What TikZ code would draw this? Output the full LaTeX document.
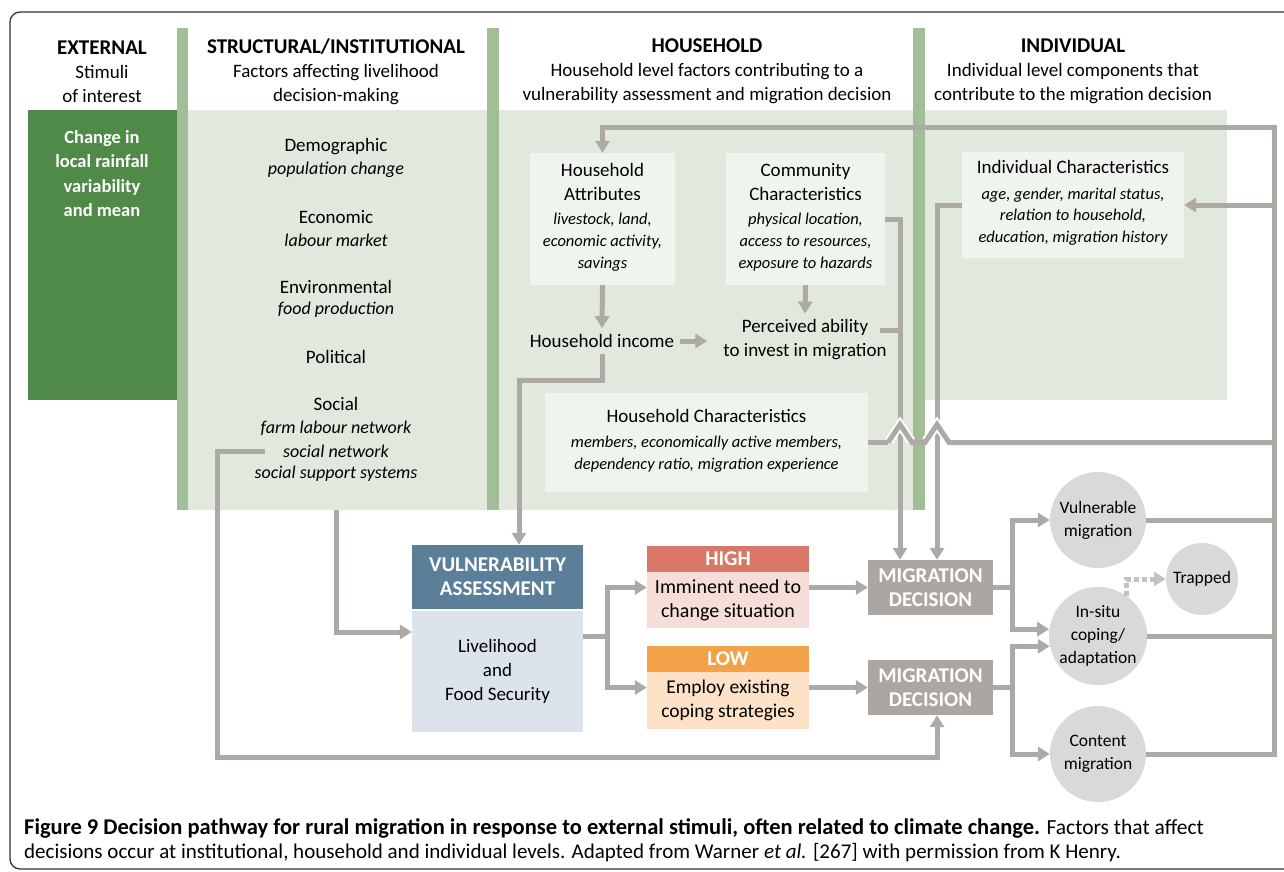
\documentclass[tikz,border=0pt]{standalone}
\usepackage{fontspec}
\setmainfont{Carlito}
\usetikzlibrary{arrows.meta,calc}
\definecolor{dkgreen}{HTML}{4F8A48}
\definecolor{bargreen}{HTML}{A1BE97}
\definecolor{bggreen}{HTML}{E1E8DD}
\definecolor{palebox}{HTML}{EFF4EE}
\definecolor{lngray}{HTML}{ADA9A5}
\definecolor{dotgray}{HTML}{C4C1BE}
\definecolor{circgray}{HTML}{D9D9D9}
\definecolor{mdgray}{HTML}{ABA6A1}
\definecolor{vahead}{HTML}{5B7F99}
\definecolor{vabody}{HTML}{DCE3EB}
\definecolor{hihead}{HTML}{D97868}
\definecolor{hibody}{HTML}{F6DDD8}
\definecolor{lohead}{HTML}{F2A247}
\definecolor{lobody}{HTML}{FDE2C8}
\newcommand\fsreg{\fontsize{19}{24}\selectfont}
\newcommand\fsbig{\fontsize{21}{24}\selectfont\bfseries}
\newcommand\fsit{\fontsize{16.5}{22}\selectfont\itshape}
\newcommand\fsitb{\fontsize{18}{23}\selectfont\itshape}
\begin{document}
\begin{tikzpicture}[x=1pt,y=-1pt,
  txt/.style={font=\fsreg, align=center, inner sep=0pt},
  itx/.style={font=\fsit, align=center, inner sep=0pt},
  itb/.style={font=\fsitb, align=center, inner sep=0pt},
  wtx/.style={font=\fsbig, align=center, inner sep=0pt, text=white},
  panel/.style={fill=palebox, inner sep=0pt},
  conn/.style={draw=lngray, line width=5, -{Triangle[length=12pt,width=14pt]}},
  plain/.style={draw=lngray, line width=5},
  halo/.style={draw=white, line width=9},
  dotarrow/.style={draw=dotgray, line width=5, dash pattern=on 5pt off 3pt, -{Triangle[length=12pt,width=14pt]}},
  bubble/.style={circle, fill=circgray, inner sep=0pt, minimum size=96, font=\fontsize{17.5}{23}\selectfont, align=center}
]
\useasboundingbox (0,0) rectangle (1284,872);
% frame
\draw[black!80, line width=1.3, rounded corners=10] (10,12) rectangle (1330,869);
% backgrounds
\fill[bggreen] (177,110) rectangle (925,510);
\fill[bggreen] (925,110) rectangle (1227,400);
\fill[dkgreen] (28,110) rectangle (177,400);
\fill[bargreen] (177,28) rectangle (188,510);
\fill[bargreen] (487,28) rectangle (499,510);
\fill[bargreen] (913,28) rectangle (925,510);
% headers
\node[txt] (hext) at (102,71.5) {{\fsbig EXTERNAL}\\Stimuli\\of interest};
\node[txt] (hstr) at (336,71.5) {{\fsbig STRUCTURAL/INSTITUTIONAL}\\Factors affecting livelihood\\decision-making};
\node[txt] (hhh) at (707,71.5) {{\fsbig HOUSEHOLD}\\Household level factors contributing to a\\vulnerability assessment and migration decision};
\node[txt] (hind) at (1073,71.5) {{\fsbig INDIVIDUAL}\\Individual level components that\\contribute to the migration decision};
% external
\node[wtx, font=\fontsize{18.5}{24.3}\selectfont\bfseries] (ext) at (102,173.5) {Change in\\local rainfall\\variability\\and mean};
% structural
\node[txt] (dem) at (336,147) {Demographic};
\node[itb] (demi) at (336,170) {population change};
\node[txt] (eco) at (336,217) {Economic};
\node[itb] (ecoi) at (336,240) {labour market};
\node[txt] (env) at (336,287) {Environmental};
\node[itb] (envi) at (336,310) {food production};
\node[txt] (pol) at (336,357) {Political};
\node[txt] (soc) at (336,404) {Social};
\node[itb] (soc1) at (336,428) {farm labour network};
\node[itb] (sn) at (336,451) {social network};
\node[itb] (soc3) at (336,474) {social support systems};
% household panels
\node[panel, minimum width=145, minimum height=132] (hha) at (602.5,219) {};
\node[txt] (hhat) at (602.5,182) {Household\\Attributes};
\node[itx] (hhai) at (602.5,242) {livestock, land,\\economic activity,\\savings};
\node[panel, minimum width=159, minimum height=132] (cc) at (805.5,219) {};
\node[txt] (cct) at (805.5,182) {Community\\Characteristics};
\node[itx] (cci) at (805.5,242) {physical location,\\access to resources,\\exposure to hazards};
\node[txt, inner sep=6] (hi) at (602,341) {Household income};
\node[txt, inner sep=6] (pa) at (805,340) {Perceived ability\\to invest in migration};
\node[panel, minimum width=323, minimum height=99] (hc) at (706.5,442.5) {};
\node[txt] (hct) at (706.5,416) {Household Characteristics};
\node[itx] (hci) at (706.5,454) {members, economically active members,\\dependency ratio, migration experience};
% individual
\node[panel, minimum width=222, minimum height=106] (ic) at (1073,205) {};
\node[txt] (ict) at (1073,167) {Individual Characteristics};
\node[itx, font=\fontsize{16.5}{21.5}\selectfont\itshape] (ici) at (1073,216.5) {age, gender, marital status,\\relation to household,\\education, migration history};
% assessment
\node[fill=vahead, minimum width=171, minimum height=64, wtx] (vah) at (497.5,577) {VULNERABILITY\\ASSESSMENT};
\node[fill=vabody, minimum width=171, minimum height=121, txt] (vab) at (497.5,671) {Livelihood\\and\\Food Security};
\node[fill=hihead, minimum width=162, minimum height=26, wtx] (hh) at (728,559) {HIGH};
\node[fill=hibody, minimum width=162, minimum height=56, txt, font=\fontsize{20}{24}\selectfont] (hb) at (728,600) {Imminent need to\\change situation};
\node[fill=lohead, minimum width=162, minimum height=26, wtx] (lh) at (728,659) {LOW};
\node[fill=lobody, minimum width=162, minimum height=57, txt, font=\fontsize{19.5}{24}\selectfont] (lb) at (728,700.5) {Employ existing\\coping strategies};
\node[fill=mdgray, minimum width=125, minimum height=55, wtx] (md1) at (930.5,587.5) {MIGRATION\\DECISION};
\node[fill=mdgray, minimum width=125, minimum height=55, wtx] (md2) at (930.5,687.5) {MIGRATION\\DECISION};
% outcomes
\node[bubble] (vm) at (1098,520) {Vulnerable\\migration};
\node[bubble] (is) at (1098,636) {In-situ\\coping/\\adaptation};
\node[bubble] (cm) at (1098,754) {Content\\migration};
\node[bubble, minimum size=72] (tr) at (1202,579) {Trapped};
% coordinates
\coordinate (rt) at (1274,128);
\coordinate (xa) at (900,0);
\coordinate (xb) at (937,0);
\coordinate (b1) at (1012,0);
\coordinate (paout) at (880,330);
\coordinate (k1) at (519,380);
\coordinate (s1) at (336,510);
\coordinate (s2) at (336,632);
\coordinate (j1) at (607,636);
\coordinate (c217) at (217,757);
% connectors
\draw[conn] (cm.east) -| (rt) -| (hha.north);
\draw[plain] (vm.east) -- (vm.east -| rt);
\draw[plain] (is.east) -- (is.east -| rt);
\draw[conn] (ic.east -| rt) -- (ic.east);
\draw[conn] (hha.south) -- (hi.north);
\draw[conn, shorten >=10pt] (hi.east) -- (pa.west |- hi.east);
\draw[conn] (cc.south) -- (pa.north);
\draw[conn] (hi.south) |- (k1) -- (k1 |- vah.north);
\draw[conn] (cc.east) -| (xa |- md1.north);
\draw[plain] (paout) -- (paout -| xa);
\draw[conn] (ic.west) -| (xb |- md1.north);
% household characteristics line with hops
\draw[plain] (hc.east) -- (888,442.5);
\draw[halo] (889,441) -- (900,424.5) -- (911,441);
\draw[halo] (926,441) -- (937,424.5) -- (948,441);
\draw[plain, line join=miter] (888,442.5) -- (900,424.5) -- (912,442.5) -- (925,442.5) -- (937,424.5) -- (949,442.5) -- (hc.east -| rt);
% social to VA and to MD2
\draw[conn] (s1) -- (s2) -- (s2 -| vab.west);
\draw[conn] ($(sn.west)+(-18,0)$) -| (c217) -| (xb |- md2.south);
% VA to high/low
\draw[plain] (vab.east |- j1) -- (j1);
\draw[conn] (j1) |- (hb.west |- md1.west);
\draw[conn] (j1) |- (lb.west |- md2.west);
\draw[conn] (hb.east |- md1.west) -- (md1.west);
\draw[conn] (lb.east |- md2.west) -- (md2.west);
% decisions to outcomes
\draw[plain] (md1.east) -- (md1.east -| b1);
\draw[conn] (md1.east -| b1) |- (vm.west);
\draw[conn] (md1.east -| b1) |- (is.172);
\draw[plain] (md2.east) -- (md2.east -| b1);
\draw[conn] (md2.east -| b1) |- (is.192);
\draw[conn] (md2.east -| b1) |- (cm.west);
\draw[dotarrow] (is.55) |- (tr.west);
% caption
\node[anchor=west, inner sep=0pt, font=\fontsize{21.5}{25}\selectfont] (cap1) at (24,828) {{\fontsize{22.5}{25}\selectfont\bfseries Figure 9 Decision pathway for rural migration in response to external stimuli, often related to climate change.} Factors that affect};
\node[anchor=west, inner sep=0pt, font=\fontsize{21}{25}\selectfont] (cap2) at (24,853) {decisions occur at institutional, household and individual levels. Adapted from Warner \textit{et al.} [267] with permission from K Henry.};
\end{tikzpicture}
\end{document}
